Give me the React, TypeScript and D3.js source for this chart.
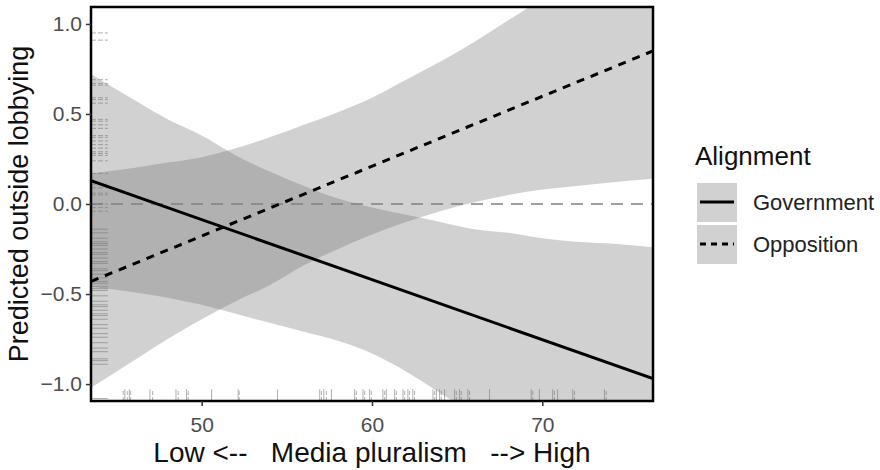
import * as d3 from 'd3';
import { useEffect, useRef } from 'react';

const bandX = [43.5, 46, 48, 50, 52, 54, 56, 58, 60, 62, 64, 66, 68, 70, 72, 74, 76.5];
const govUpper = [0.72, 0.58, 0.47, 0.38, 0.27, 0.18, 0.1, 0.03, -0.02, -0.06, -0.1, -0.14, -0.16, -0.19, -0.21, -0.22, -0.24];
const govLower = [-0.46, -0.49, -0.52, -0.56, -0.61, -0.66, -0.71, -0.76, -0.83, -0.93, -1.05, -1.17, -1.29, -1.41, -1.52, -1.62, -1.72];
const oppUpper = [0.17, 0.2, 0.23, 0.26, 0.31, 0.37, 0.44, 0.51, 0.59, 0.69, 0.79, 0.9, 1.02, 1.14, 1.26, 1.39, 1.55];
const oppLower = [-1.02, -0.87, -0.75, -0.64, -0.54, -0.45, -0.34, -0.25, -0.17, -0.1, -0.04, 0.01, 0.05, 0.08, 0.1, 0.12, 0.14];

// predicted lines (straight)
const lineX = [43.5, 76.5];
const govLine = [0.13, -0.97];
const oppLine = [-0.43, 0.85];

const groups = ['Government', 'Opposition'];
const xTicks = [50, 60, 70];
const yTicks = [-1.0, -0.5, 0.0, 0.5, 1.0];

// rug marks on the y axis (observed outcomes)
const rugYOpp = [0.95, 0.91, 0.69, 0.67, 0.66, 0.59, 0.58, 0.56, 0.47, 0.46, 0.44, 0.42, 0.38, 0.37, 0.35, 0.33,
  0.31, 0.29, 0.28, 0.27, 0.24, 0.17, 0.11, 0.09, 0.06, 0.05, 0.0, -0.02, -0.04];
const rugYGov = [-0.14, -0.16, -0.19, -0.21, -0.22, -0.23, -0.25, -0.27, -0.28, -0.3, -0.32, -0.33, -0.36, -0.37,
  -0.39, -0.41, -0.43, -0.44, -0.46, -0.47, -0.48, -0.51, -0.54, -0.56, -0.57, -0.59, -0.61, -0.62, -0.64,
  -0.67, -0.69, -0.72, -0.74, -0.77, -0.8, -0.82, -0.86, -0.87, -0.89, -1.08];

// rug marks on the x axis (media pluralism)
const rugXOpp = [45.39, 45.63, 45.83, 47.12, 48.62, 49.21, 52.2, 57.03, 57.32, 59.08, 59.57, 59.96, 60.74,
  61.43, 61.92, 62.21, 62.5, 63.68, 64.07, 64.95, 65.24, 65.73, 69.44, 70.71, 71.89, 73.75];
const rugXGov = [45.49, 45.75, 46.96, 48.49, 49.11, 50.58, 52.14, 54.45, 56.93, 57.17, 57.62, 58.98, 59.47,
  59.86, 60.64, 60.84, 61.33, 61.82, 62.11, 62.4, 63.58, 63.78, 63.97, 64.26, 64.85, 65.14, 65.63, 66.9,
  69.35, 69.83, 70.61, 70.9, 71.79, 73.65];

const FONT = '"Liberation Sans", Arial, sans-serif';
const NB = '\u00A0';

export default function App() {
  const ref = useRef(null);

  useEffect(() => {
    const width = 880;
    const height = 470;
    const margin = { top: 7, right: 227, bottom: 69, left: 91 };
    const innerWidth = width - margin.left - margin.right;
    const innerHeight = height - margin.top - margin.bottom;

    const svg = d3.select(ref.current);
    svg.selectAll('*').remove();
    svg.attr('width', width).attr('height', height);

    svg.append('rect').attr('width', width).attr('height', height).attr('fill', '#fff');

    const x = d3.scaleLinear().domain([43.5, 76.5]).range([0, innerWidth]);
    const y = d3.scaleLinear().domain([-1.094, 1.094]).range([innerHeight, 0]);

    svg.append('defs').append('clipPath').attr('id', 'panel-clip')
      .append('rect').attr('width', innerWidth).attr('height', innerHeight);

    const g = svg.append('g').attr('transform', `translate(${margin.left},${margin.top})`);
    const panel = g.append('g').attr('clip-path', 'url(#panel-clip)');

    const area = d3.area()
      .curve(d3.curveMonotoneX)
      .x(d => x(d[0]))
      .y0(d => y(d[1]))
      .y1(d => y(d[2]));

    const bands = [
      bandX.map((v, i) => [v, govLower[i], govUpper[i]]),
      bandX.map((v, i) => [v, oppLower[i], oppUpper[i]]),
    ];
    panel.selectAll('path.band')
      .data(bands)
      .enter()
      .append('path')
      .attr('class', 'band')
      .attr('d', area)
      .attr('fill', '#666')
      .attr('fill-opacity', 0.3);

    // zero reference
    panel.append('line')
      .attr('x1', 0).attr('x2', innerWidth)
      .attr('y1', y(0)).attr('y2', y(0))
      .attr('stroke', '#808080')
      .attr('stroke-width', 1.6)
      .attr('stroke-dasharray', '12 8');

    // rugs
    const leftLen = innerWidth * 0.03;
    const bottomLen = innerHeight * 0.03;
    [[rugYGov, null], [rugYOpp, '5 2']].forEach(([vals, dash]) => {
      panel.append('g').selectAll('line')
        .data(vals)
        .enter()
        .append('line')
        .attr('x1', 0).attr('x2', leftLen)
        .attr('y1', d => y(d)).attr('y2', d => y(d))
        .attr('stroke', '#7a7a7a')
        .attr('stroke-opacity', 0.6)
        .attr('stroke-width', 1)
        .attr('stroke-dasharray', dash);
    });
    [[rugXGov, null], [rugXOpp, '4 2']].forEach(([vals, dash]) => {
      panel.append('g').selectAll('line')
        .data(vals)
        .enter()
        .append('line')
        .attr('x1', d => x(d)).attr('x2', d => x(d))
        .attr('y1', innerHeight).attr('y2', innerHeight - bottomLen)
        .attr('stroke', '#7a7a7a')
        .attr('stroke-opacity', 0.6)
        .attr('stroke-width', 1)
        .attr('stroke-dasharray', dash);
    });

    // predicted lines
    const line = d3.line().x(d => x(d[0])).y(d => y(d[1]));
    [[govLine, null], [oppLine, '8 7']].forEach(([vals, dash]) => {
      panel.append('path')
        .attr('d', line(lineX.map((v, i) => [v, vals[i]])))
        .attr('fill', 'none')
        .attr('stroke', '#000')
        .attr('stroke-width', 3)
        .attr('stroke-dasharray', dash);
    });

    // panel border
    g.append('rect')
      .attr('width', innerWidth).attr('height', innerHeight)
      .attr('fill', 'none')
      .attr('stroke', '#000')
      .attr('stroke-width', 2.5);

    // axes
    const yAxis = g.append('g')
      .call(d3.axisLeft(y).tickValues(yTicks).tickFormat(d3.format('.1f')).tickSize(5).tickPadding(4));
    const xAxis = g.append('g')
      .attr('transform', `translate(0,${innerHeight})`)
      .call(d3.axisBottom(x).tickValues(xTicks).tickSize(5).tickPadding(6));
    [xAxis, yAxis].forEach(ax => {
      ax.select('.domain').remove();
      ax.selectAll('line').attr('stroke', '#333').attr('stroke-width', 1.5);
      ax.selectAll('text')
        .attr('fill', '#4d4d4d')
        .style('font-family', FONT)
        .style('font-size', '21px');
    });
    xAxis.selectAll('text').attr('dy', '0.95em');

    // axis titles
    svg.append('text')
      .attr('transform', `translate(28,${margin.top + innerHeight / 2}) rotate(-90)`)
      .attr('text-anchor', 'middle')
      .attr('fill', '#111')
      .style('font-family', FONT)
      .style('font-size', '27px')
      .text('Predicted outside lobbying');

    svg.append('text')
      .attr('x', margin.left + innerWidth / 2)
      .attr('y', 462)
      .attr('text-anchor', 'middle')
      .attr('fill', '#111')
      .style('font-family', FONT)
      .style('font-size', '28px')
      .text(`Low <--${NB}${NB}${NB}Media pluralism${NB}${NB}${NB}--> High`);

    // legend
    const legend = svg.append('g').attr('transform', 'translate(697,0)');
    legend.append('text')
      .attr('x', -2).attr('y', 165)
      .attr('fill', '#111')
      .style('font-family', FONT)
      .style('font-size', '26px')
      .text('Alignment');

    const keys = legend.selectAll('g.key')
      .data(groups)
      .enter()
      .append('g')
      .attr('class', 'key')
      .attr('transform', (d, i) => `translate(0,${183 + i * 42})`);
    keys.append('rect')
      .attr('width', 40).attr('height', 39)
      .attr('fill', '#666')
      .attr('fill-opacity', 0.3);
    keys.append('line')
      .attr('x1', 3).attr('x2', 37)
      .attr('y1', 19).attr('y2', 19)
      .attr('stroke', '#000')
      .attr('stroke-width', 3)
      .attr('stroke-dasharray', (d, i) => (i === 1 ? '6 5' : null));
    keys.append('text')
      .attr('x', 56).attr('y', 27)
      .attr('fill', '#222')
      .style('font-family', FONT)
      .style('font-size', '22px')
      .text(d => d);

    return () => {
      svg.selectAll('*').remove();
    };
  }, []);

  return <svg ref={ref} style={{ position: 'absolute', left: 0, top: 0 }} />;
}
